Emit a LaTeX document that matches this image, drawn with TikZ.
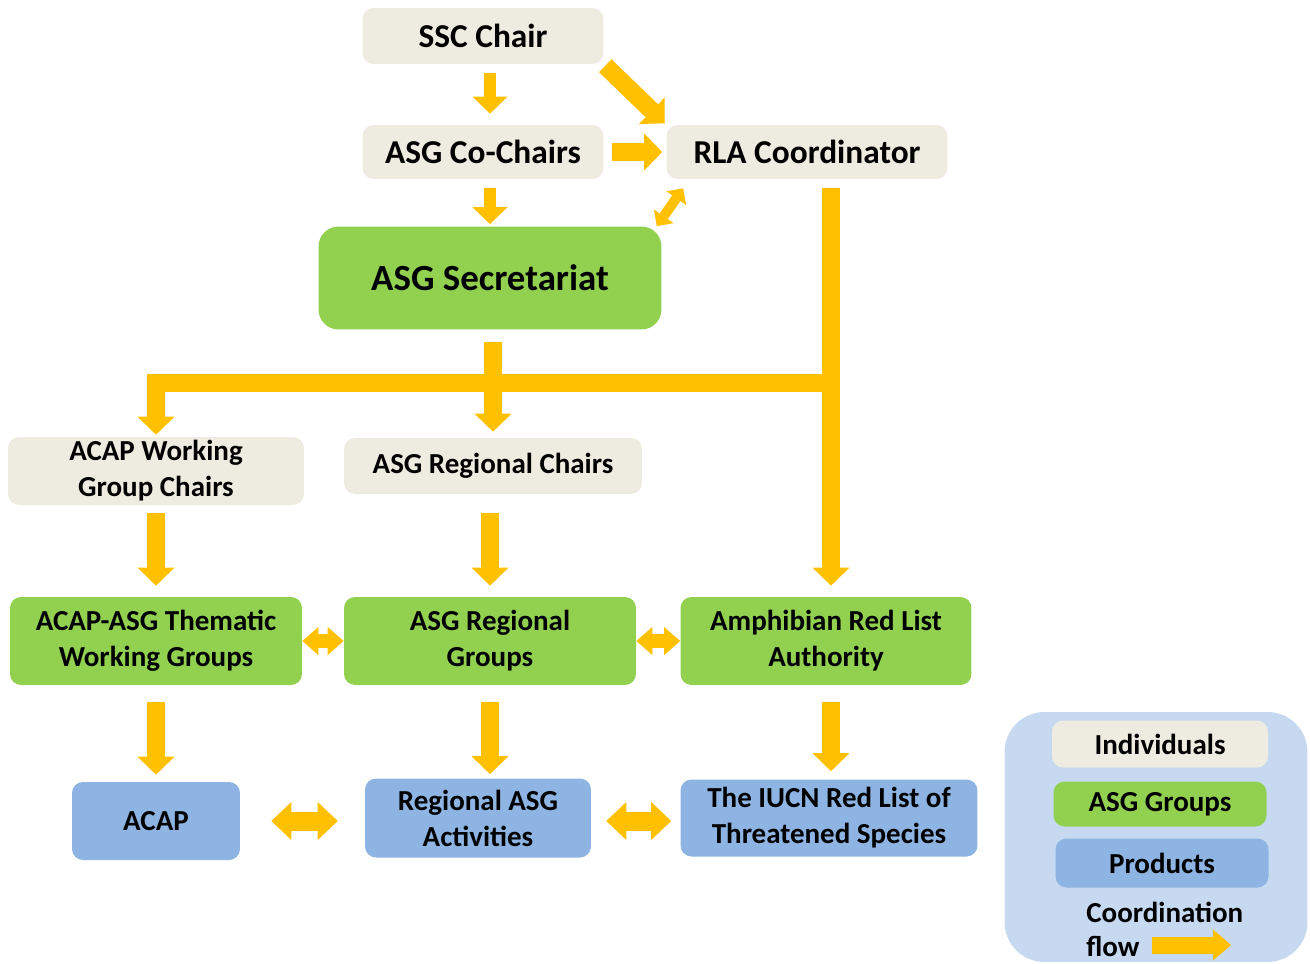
\documentclass[tikz,border=0pt]{standalone}
\usepackage{fontspec}
\setmainfont{Carlito}
\usetikzlibrary{arrows.meta,calc}
\definecolor{indivcol}{HTML}{EEECE1}
\definecolor{groupcol}{HTML}{92D050}
\definecolor{prodcol}{HTML}{8DB4E2}
\definecolor{legendcol}{HTML}{C6D9F1}
\definecolor{flowcol}{HTML}{FFC000}
\tikzset{
  box/.style={rounded corners=0.22cm, inner sep=0pt, align=center, text=black,
    font=\bfseries\fontsize{16.5}{20.5}\selectfont},
  indivbox/.style={box, fill=indivcol},
  groupbox/.style={box, fill=groupcol},
  prodbox/.style={box, fill=prodcol},
  bigtext/.style={font=\bfseries\fontsize{19}{23}\selectfont},
  flowS/.style={draw=flowcol, line width=0.24cm,
    -{Triangle[length=0.34cm,width=0.70cm,line width=0pt]}},
  flowL/.style={draw=flowcol, line width=0.36cm,
    -{Triangle[length=0.36cm,width=0.74cm,line width=0pt]}},
  twoXS/.style={draw=flowcol, line width=0.2cm,
    {Triangle[length=0.24cm,width=0.48cm,line width=0pt]}-{Triangle[length=0.24cm,width=0.48cm,line width=0pt]}},
  twoS/.style={draw=flowcol, line width=0.28cm,
    {Triangle[length=0.32cm,width=0.56cm,line width=0pt]}-{Triangle[length=0.32cm,width=0.56cm,line width=0pt]}},
  twoL/.style={draw=flowcol, line width=0.38cm,
    {Triangle[length=0.4cm,width=0.76cm,line width=0pt]}-{Triangle[length=0.4cm,width=0.76cm,line width=0pt]}},
  flowkey/.style={draw=flowcol, line width=0.34cm,
    -{Triangle[length=0.36cm,width=0.62cm,line width=0pt]}}
}
\begin{document}
\begin{tikzpicture}[x=0.02cm,y=-0.02cm]
        \useasboundingbox (0,0) rectangle (1310,963);
        \node[indivbox,bigtext,minimum width=4.82cm,minimum height=1.12cm] (ssc) at (483,36) {SSC Chair};
        \node[indivbox,bigtext,minimum width=4.82cm,minimum height=1.08cm] (cochairs) at (483,152) {ASG Co-Chairs};
        \node[indivbox,bigtext,minimum width=5.62cm,minimum height=1.08cm] (rla) at (807,152) {RLA Coordinator};
        \node[groupbox,rounded corners=0.4cm,font=\bfseries\fontsize{21}{25}\selectfont,
              minimum width=6.86cm,minimum height=2.06cm] (secretariat) at (490,278) {ASG Secretariat};
        
        \node[indivbox,minimum width=5.92cm,minimum height=1.36cm] (wgchairs) at (156,471) {ACAP Working\\Group Chairs};
        \node[indivbox,minimum width=5.96cm,minimum height=1.12cm] (regchairs) at (493,466) {ASG Regional Chairs};
        
        \node[groupbox,minimum width=5.84cm,minimum height=1.76cm] (thematic) at (156,641) {ACAP-ASG Thematic\\Working Groups};
        \node[groupbox,minimum width=5.84cm,minimum height=1.76cm] (reggroups) at (490,641) {ASG Regional\\Groups};
        \node[groupbox,minimum width=5.82cm,minimum height=1.76cm] (arla) at (826,641) {Amphibian Red List\\Authority};
        
        \node[prodbox,minimum width=3.36cm,minimum height=1.56cm] (acap) at (156,821) {ACAP};
        \node[prodbox,minimum width=4.52cm,minimum height=1.58cm] (activities) at (478,818) {Regional ASG\\Activities};
        \node[prodbox,minimum width=5.94cm,minimum height=1.54cm] (iucn) at (829,818) {The IUCN Red List of\\Threatened Species};
        
        \node[fill=legendcol,rounded corners=0.8cm,minimum width=6.06cm,minimum height=5cm] (legend) at (1156,837) {};
        \node[indivbox,minimum width=4.32cm,minimum height=0.94cm] (indiv) at (1160,744) {Individuals};
        \node[groupbox,minimum width=4.26cm,minimum height=0.90cm] (groups) at (1160,804) {ASG Groups};
        \node[prodbox,minimum width=4.26cm,minimum height=0.98cm] (products) at (1162,863) {Products};
        \node[box,anchor=west] (coordtxt) at (1086,912) {Coordination};
        \node[box,anchor=west] (flowtxt) at (1086,946) {flow};
        \coordinate (flowstart) at (1152,945);
        \coordinate (flowend) at (1231,945);
        
        \coordinate (junction) at (831,383);
        
        \draw[flowS,shorten <=0.18cm,shorten >=0.22cm] (ssc.south -| secretariat.north) -- (cochairs.north -| secretariat.north);
        \draw[flowS,shorten <=0.18cm,shorten >=0.04cm] (cochairs.south -| secretariat.north) -- (secretariat.north);
        \draw[flowL,shorten <=0.04cm,shorten >=0.04cm] (ssc.south east) -- (rla.north west);
        \draw[flowL,shorten <=0.16cm,shorten >=0.08cm] (cochairs.east) -- (rla.west);
        \draw[twoXS] ([xshift=-0.1cm]secretariat.north east) -- ([shift={(0.34cm,-0.18cm)}]rla.south west);
        
        \draw[flowL,shorten <=0.24cm,shorten >=0.12cm] (secretariat.south -| regchairs.north) -- (regchairs.north);
        \draw[flowL,shorten >=0.04cm] (junction) -| (wgchairs.north);
        \draw[flowL,shorten <=0.18cm,shorten >=0.22cm] (junction |- rla.south) -- (junction |- arla.north);
        
        \draw[flowL,shorten <=0.16cm,shorten >=0.22cm] (wgchairs.south) -- (thematic.north);
        \draw[flowL,shorten <=0.38cm,shorten >=0.22cm] (regchairs.south -| reggroups.north) -- (reggroups.north);
        \draw[flowL,shorten <=0.34cm,shorten >=0.14cm] (thematic.south) -- (acap.north);
        \draw[flowL,shorten <=0.34cm,shorten >=0.08cm] (reggroups.south) -- (reggroups.south |- activities.north);
        \draw[flowL,shorten <=0.34cm,shorten >=0.16cm] (junction |- arla.south) -- (junction |- iucn.north);
        
        \draw[twoS] (thematic.east) -- (reggroups.west);
        \draw[twoS] (reggroups.east) -- (arla.west);
        \draw[twoL,shorten <=0.62cm,shorten >=0.54cm] (acap.east) -- (acap.east -| activities.west);
        \draw[twoL,shorten <=0.3cm,shorten >=0.18cm] (acap.east -| activities.east) -- (acap.east -| iucn.west);
        
        \draw[flowkey] (flowstart) -- (flowend);
\end{tikzpicture}
\end{document}
